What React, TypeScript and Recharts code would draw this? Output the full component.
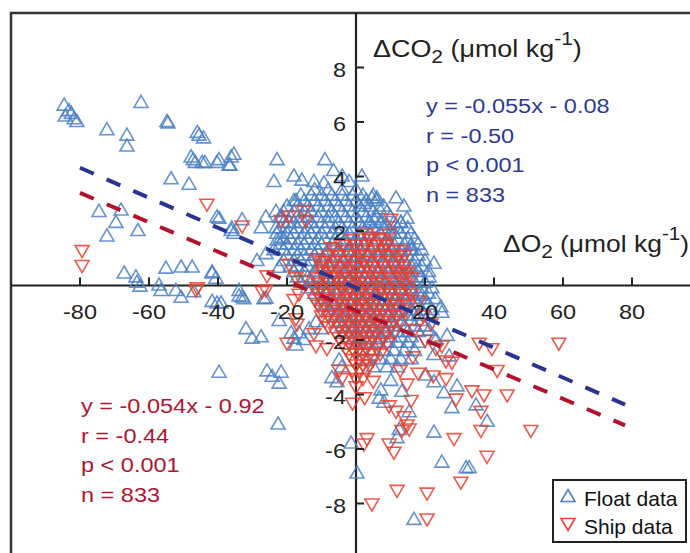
import React from 'react';
import { ScatterChart, Scatter, XAxis, YAxis, ReferenceLine, ReferenceDot, ReferenceArea } from 'recharts';

// ---------- data ----------
const xTicks = [-80, -60, -40, -20, 20, 40, 60, 80];
const yTicks = [8, 6, 4, 2, -2, -4, -6, -8];
const xDomain = [-100, 100];
const yDomain = [-10, 10];

const floatName = 'Float data';
const shipName = 'Ship data';

// scattered float points [ΔO2, ΔCO2]
const floatOutliers: [number, number][] = [
  [-84.6, 6.6], [-83.2, 6.4], [-84.3, 6.2], [-81.7, 6.1], [-80.9, 6.0], [-82.5, 6.3],
  [-62.3, 6.7], [-72.2, 5.7], [-66.4, 5.5], [-66.4, 5.1], [-54.8, 6.0], [-54.5, 5.95],
  [-46, 5.6], [-45.5, 5.5], [-44.2, 5.4], [-47.8, 4.7], [-47.2, 4.6], [-46.6, 4.5],
  [-43.8, 4.5], [-40.3, 4.5], [-36.2, 4.7], [-36.5, 4.4], [-53.6, 3.9], [-48.4, 3.7],
  [-74.5, 2.7], [-68.1, 2.75], [-69.6, 2.3], [-72.2, 1.8], [-63.2, 2.0],
  [-40.3, 2.5], [-36.2, 2.0], [-35.4, 1.9],
  [-22.9, 4.6], [-9, 4.6], [-23.8, 3.8], [-18, 4.0], [-15.7, 3.85], [-12.2, 3.8], [-9.3, 3.75],
  [-6.5, 4.2], [-4, 4.0], [-2, 3.8],
  [-67.2, 0.44], [-63.8, 0.3], [-55.1, 0.62], [-50.7, 0.66], [-47.5, 0.66], [-41.7, 0.44],
  [-63.5, 0.1], [-62.6, -0.04], [-57.1, 0], [-56.5, -0.2], [-52.2, -0.2], [-50.7, -0.45],
  [-47, -0.25], [-40.6, 0.25], [-41.7, -0.6], [-40.3, -0.66], [-33.9, -0.4], [-32.5, -0.5],
  [-26.7, -0.5], [-39.1, -0.66], [-33.9, -0.2], [-33, -0.44], [-26.1, -0.48],
  [-31.9, -1.6], [-30.1, -1.95], [-27.5, -1.9], [-39.7, -3.2], [-25.8, -3.15], [-24.3, -3.35],
  [-21.7, -3.2], [-22.3, -3.6], [-22.6, -5.1],
  [-22.3, -1.3], [-18.8, -1.75], [-18, -1.95], [-16.5, -1.75], [-15.1, -2], [-17.4, -2.2],
  [-13.6, -1.6], [-11.6, -1.35], [-10.1, -1.6],
  [-7, -3.4], [-4.9, -2.75], [-5.5, -3.55], [-4.1, -3.0], [-1.4, -5.8],
  [-44.6, 4.5], [-39.7, 4.6], [-36.8, 4.4], [-35.4, 4.8],
  [-17.4, 3.1], [-39.7, 2.45], [-33, 2.4], [-36, 2.1], [-41.7, 0.48],
  [-26.1, 2.5], [-23.2, 2.7], [-21.4, 2.5], [-19.4, 2.3],
  [-27.5, 2.1], [-23.2, 2.1], [-21.7, 1.75], [-22.9, 1.65],
  [-28.7, 0.9], [-26.1, 1.15], [-23.8, 1.3], [-22.3, 0.65],
  [1.7, 4.0], [4.6, 3.2], [6.1, 3.2], [2.3, 3.0], [6.7, 2.8], [14.8, 2.45], [13, 2.3],
  [15.9, 1.45], [16.2, 1.3], [22.6, 0.8], [17.4, 0.6], [21.2, 0.3],
  [3.8, 2.3], [5.2, 2.4], [7.5, 2.3], [9, 2.2], [11, 1.9], [8.7, 1.3], [11.6, 3.2], [13.9, 2.9],
  [16.2, -0.2], [19.1, -0.37], [24.6, -0.8], [24.9, -1.0], [22.6, -1.95], [27, -2.6],
  [22.6, -2.55], [20.3, -3.3], [22.6, -3.55], [29.3, -3.7], [25.5, -3.95], [27.8, -4.5],
  [7.2, -3.85], [6.7, -4.15], [8.1, -4.3], [15.4, -4.65], [12.5, -5.3], [11.9, -5.6],
  [22.6, -5.4], [24.9, -6.5], [31.9, -6.7], [0.3, -6.9], [16.8, -8.6],
  [21.2, -1.65], [23.2, -2.0], [26.4, -1.85], [10.1, -3.5], [13.3, -3.9],
  [34.8, -4.4], [38, -5.0], [32.8, -6.7],
];

// dense float core: [ΔCO2 row, ΔO2 values]
const floatCoreRows: [number, number[]][] = [
  [3.5, [-12, -8, -4, 0]],
  [3.3, [-16, -13, -10, -7, -4, -1, 2, 5]],
  [3.1, [-18, -15, -12, -9, -6, -3, 0, 3, 6]],
  [2.9, [-20, -17, -14, -11, -8, -5, -2, 1, 4, 8]],
  [2.7, [-21, -18, -15, -13, -10, -7, -4, -1, 2, 5, 9]],
  [2.5, [-22, -19, -16, -14, -11, -8, -6, -3, 0, 3, 6, 10]],
  [2.3, [-21, -18, -16, -13, -10, -8, -5, -2, 1, 4, 7, 11, 13]],
  [2.1, [-22, -19, -17, -14, -12, -9, -6, -4, -1, 2, 5, 8, 12, 15]],
  [1.9, [-23, -20, -18, -15, -13, -10, -7, -5, -2, 1, 4, 7, 10, 13, 16]],
  [1.7, [-21, -19, -16, -14, -11, -9, -6, -3, 0, 3, 6, 9, 12, 15, 17]],
  [1.5, [-22, -20, -17, -15, -12, -10, -7, -4, -1, 2, 5, 8, 11, 14, 18]],
  [1.3, [-21, -18, -16, -13, -11, -8, -5, -2, 1, 4, 7, 10, 13, 16, 19]],
  [1.1, [-20, -17, -15, -12, -9, -6, -3, 0, 3, 6, 9, 12, 15, 18]],
  [0.9, [-21, -18, -16, -13, -10, -7, -4, -1, 2, 5, 8, 11, 14, 17, 20]],
  [0.7, [-19, -17, -14, -11, -8, -5, -2, 1, 4, 7, 10, 13, 16, 19]],
  [0.5, [-18, -15, -12, -9, -6, -3, 0, 3, 6, 9, 12, 15, 18, 21]],
  [0.3, [-17, -14, -11, -8, -5, -2, 1, 4, 7, 10, 13, 16, 19]],
  [0.1, [-16, -13, -10, -7, -4, -1, 2, 5, 8, 11, 14, 17, 20]],
  [-0.1, [-14, -11, -8, -5, -2, 1, 4, 7, 10, 13, 16, 19, 22]],
  [-0.3, [-12, -9, -6, -3, 0, 3, 6, 9, 12, 15, 18, 21]],
  [-0.5, [-10, -7, -4, -1, 2, 5, 8, 11, 14, 17, 20, 23]],
  [-0.7, [-9, -6, -3, 0, 3, 6, 9, 12, 15, 18, 21]],
  [-0.9, [-8, -5, -2, 1, 4, 7, 10, 13, 16, 19, 22]],
  [-1.1, [-6, -3, 0, 3, 6, 9, 12, 15, 18, 21]],
  [-1.3, [-5, -2, 1, 4, 7, 10, 13, 16, 19]],
  [-1.5, [-4, -1, 2, 5, 8, 11, 14, 17, 20]],
  [-1.7, [-3, 0, 3, 6, 9, 12, 15, 18]],
  [-1.9, [-2, 1, 4, 7, 10, 13, 16]],
  [-2.1, [0, 3, 6, 9, 12, 15, 18]],
  [-2.4, [2, 5, 8, 11, 14, 17]],
  [-2.7, [3, 7, 10, 13, 16]],
  [-3.0, [5, 9, 12]],
];

const shipOutliers: [number, number][] = [
  [-79.4, 1.3], [-79.4, 0.75], [-46, -0.07], [-46.4, -0.15], [-26.1, -0.15], [-43.2, 3.0],
  [-33, 2.2], [-21.7, 2.4], [-19.4, 2.55], [-15.1, 2.75], [-14.5, 2.4], [-25.8, 0.37],
  [-7, 1.4], [-11.3, 1.0], [-9.9, 0.9], [-19.4, 0.8], [-17.4, 0.3], [-15.7, 0.2],
  [-27.2, -0.2], [-20, -2.1], [-17.4, -1.2], [-17.1, -1.4], [-11.6, -2.2], [-12.2, -1.75],
  [-4.9, -3.1], [-4.1, -3.4], [-18, -0.5], [-16.5, -0.3], [-8.4, -2.3],
  [10.1, 2.45], [3.8, 1.8], [6.7, 1.75], [9.6, 1.9], [8.7, 1.5], [13.9, 0.44],
  [18.3, -0.55], [21.7, -1.4], [24.9, -2.2], [23.2, -2.3], [26.1, -2.75], [27.8, -2.8],
  [26.1, -3.4], [29, -4.15], [14.8, -3.6], [9.6, -4.4], [11.6, -4.6], [13.9, -4.8],
  [14.8, -5.1], [13.3, -5.3], [15.4, -5.25], [3.2, -5.6], [2.3, -5.8], [9.6, -5.8],
  [11, -6.1], [28.4, -5.6], [30.4, -7.2], [11.9, -7.5], [20.6, -7.6], [4.6, -8.0], [20.6, -8.55],
  [35.7, -2.1], [39.4, -2.3], [58.8, -2.1], [40.9, -3.1], [43.8, -4.0], [33.6, -3.85],
  [37.1, -4.0], [36.2, -4.6], [36.2, -5.3], [50.7, -5.3], [38, -6.25],
  [19.5, -1.1], [17, -1.6], [20, -2.0], [16.5, -2.6], [12.8, -3.1], [18, -3.2],
  [22.4, -3.3], [16, -4.2], [0, -3.7], [2.5, -4.1], [5, -3.5], [-1, -4.3],
];

const shipCoreRows: [number, number[]][] = [
  [1.9, [3]],
  [1.7, [-1, 4, 8]],
  [1.5, [-4, 0, 3, 6, 9]],
  [1.3, [-6, -3, 0, 2, 5, 8, 11, 13]],
  [1.1, [-8, -5, -2, 1, 3, 6, 9, 12, 14]],
  [0.9, [-9, -6, -3, -1, 2, 4, 7, 10, 13]],
  [0.7, [-10, -7, -5, -2, 0, 3, 5, 8, 11, 14]],
  [0.5, [-10, -8, -6, -3, -1, 1, 4, 6, 9, 12, 15]],
  [0.3, [-11, -9, -6, -4, -2, 0, 2, 5, 7, 10, 13, 16]],
  [0.1, [-11, -8, -5, -3, -1, 1, 3, 6, 8, 11, 14]],
  [-0.1, [-12, -10, -7, -4, -2, 0, 2, 4, 7, 9, 12, 15]],
  [-0.3, [-11, -9, -6, -3, -1, 1, 3, 5, 8, 10, 13, 16]],
  [-0.5, [-12, -10, -8, -5, -3, 0, 2, 4, 6, 9, 11, 14]],
  [-0.7, [-11, -9, -6, -4, -2, 1, 3, 5, 7, 10, 12, 15]],
  [-0.9, [-10, -7, -5, -3, 0, 2, 4, 6, 8, 11, 14]],
  [-1.1, [-10, -8, -6, -3, -1, 1, 3, 5, 7, 9, 12]],
  [-1.3, [-9, -7, -4, -2, 0, 2, 4, 6, 8, 11, 13]],
  [-1.5, [-8, -5, -3, -1, 1, 3, 5, 7, 10]],
  [-1.7, [-6, -4, -2, 0, 2, 4, 6, 9, 11]],
  [-1.9, [-5, -3, -1, 1, 3, 5, 8]],
  [-2.1, [-4, -2, 0, 2, 4, 7, 9]],
  [-2.3, [-3, -1, 1, 3, 6]],
  [-2.5, [-2, 0, 2, 4, 7]],
  [-2.7, [-1, 1, 3, 5]],
  [-2.9, [0, 2, 4]],
  [-3.1, [-1, 1, 3]],
  [-3.4, [0, 2]],
];

const floatFit = { slope: -0.055, intercept: -0.08 };
const shipFit = { slope: -0.054, intercept: -0.92 };
const fitRange = [-80, 78];

const floatStats = ['y = -0.055x - 0.08', 'r = -0.50', 'p < 0.001', 'n = 833'];
const shipStats = ['y = -0.054x - 0.92', 'r = -0.44', 'p < 0.001', 'n = 833'];

// ---------- styles ----------
const FLOAT_COLOR = '#4b80c6';
const SHIP_COLOR = '#e5402f';
const FLOAT_FIT = '#2a3591';
const SHIP_FIT = '#b3122f';
const FLOAT_TEXT = '#2e3a94';
const SHIP_TEXT = '#b01530';
const AXIS = '#222';
const FONT = '"Liberation Sans", Arial, Helvetica, sans-serif';
const SX = 1.12;

const toPts = (pairs: [number, number][]) => pairs.map(([x, y]) => ({ x, y }));
const fromRows = (rows: [number, number[]][]) => rows.flatMap(([y, xs]) => xs.map((x) => ({ x, y })));

const floatData = [...toPts(floatOutliers), ...fromRows(floatCoreRows)];
const shipData = [...toPts(shipOutliers), ...fromRows(shipCoreRows)];
const fitLine = (f: { slope: number; intercept: number }) =>
  fitRange.map((x) => ({ x, y: f.slope * x + f.intercept }));

const upPath = (cx: number, cy: number) => `M${cx},${cy - 7.5}L${cx + 7},${cy + 4.5}L${cx - 7},${cy + 4.5}Z`;
const downPath = (cx: number, cy: number) => `M${cx},${cy + 7.5}L${cx + 7},${cy - 4.5}L${cx - 7},${cy - 4.5}Z`;

const UpTri = (p: any) =>
  p.cx == null ? <g /> : <path d={upPath(p.cx, p.cy)} fill="none" stroke={FLOAT_COLOR} strokeOpacity={0.85} strokeWidth={1.6} />;
const DownTri = (p: any) =>
  p.cx == null ? <g /> : <path d={downPath(p.cx, p.cy)} fill="none" stroke={SHIP_COLOR} strokeOpacity={0.85} strokeWidth={1.6} />;
const NoShape = () => <g />;

const Txt = ({ x, y, children, anchor = 'start', size = 21, fill = AXIS, sx = SX }: any) => (
  <text transform={`translate(${x} ${y}) scale(${sx} 1)`} x={0} y={0} textAnchor={anchor} fontSize={size} fill={fill} fontFamily={FONT}>
    {children}
  </text>
);

const XTick = (v: number) => (p: any) =>
  p.cx == null ? <g /> : (
    <g>
      <line x1={p.cx} x2={p.cx} y1={p.cy} y2={p.cy - 8} stroke={AXIS} strokeWidth={2} />
      <Txt x={p.cx} y={p.cy + 33} anchor="middle">{String(v)}</Txt>
    </g>
  );
const YTick = (v: number) => (p: any) =>
  p.cx == null ? <g /> : (
    <g>
      <line x1={p.cx} x2={p.cx + 8} y1={p.cy} y2={p.cy} stroke={AXIS} strokeWidth={2} />
      <Txt x={p.cx - 10} y={p.cy + 9} anchor="end">{String(v)}</Txt>
    </g>
  );

const UnitTitle = ({ x, y, species, sx }: { x: number; y: number; species: string; sx: number }) => (
  <text transform={`translate(${x} ${y}) scale(${sx} 1)`} x={0} y={0} fontSize={23} fill={AXIS} fontFamily={FONT}>
    <tspan>{'Δ' + species}</tspan>
    <tspan fontSize={18} dy={6}>2</tspan>
    <tspan dy={-6}>{' (μmol kg'}</tspan>
    <tspan fontSize={18} dy={-12}>-1</tspan>
    <tspan dy={12}>)</tspan>
  </text>
);

const LegendBox = () => (
  <div style={{ position: 'absolute', left: 552, top: 479, width: 135, height: 64, boxSizing: 'border-box', border: '2px solid #222', background: '#fff' }}>
    <svg width={131} height={60} style={{ display: 'block' }}>
      <path d={upPath(14, 16)} fill="none" stroke={FLOAT_COLOR} strokeWidth={1.6} />
      <text x={30} y={25} fontSize={21} fontFamily={FONT} fill="#111">{floatName}</text>
      <path d={downPath(14, 42)} fill="none" stroke={SHIP_COLOR} strokeWidth={1.6} />
      <text x={30} y={53} fontSize={21} fontFamily={FONT} fill="#111">{shipName}</text>
    </svg>
  </div>
);

export default function App() {
  return (
    <div style={{ position: 'absolute', left: 0, top: 0, width: 690, height: 553, overflow: 'hidden', background: '#fff' }}>
      <ScatterChart width={721} height={578} margin={{ top: 13, left: 11, right: 20, bottom: 20 }}>
        <XAxis type="number" dataKey="x" domain={xDomain} hide allowDataOverflow />
        <YAxis type="number" dataKey="y" domain={yDomain} hide allowDataOverflow />
        <ReferenceArea x1={xDomain[0]} x2={xDomain[1]} y1={yDomain[0]} y2={yDomain[1]} fill="none" stroke="#333" strokeWidth={2.5} ifOverflow="visible" />
        <Scatter name={floatName} data={floatData} shape={UpTri} isAnimationActive={false} />
        <Scatter name={shipName} data={shipData} shape={DownTri} isAnimationActive={false} />
        <Scatter data={fitLine(floatFit)} shape={NoShape} line={{ stroke: FLOAT_FIT, strokeWidth: 4, strokeDasharray: '15 14' }} legendType="none" isAnimationActive={false} />
        <Scatter data={fitLine(shipFit)} shape={NoShape} line={{ stroke: SHIP_FIT, strokeWidth: 4, strokeDasharray: '15 14' }} legendType="none" isAnimationActive={false} />
        <ReferenceLine x={0} stroke={AXIS} strokeWidth={2.2} ifOverflow="visible" />
        <ReferenceLine y={0} stroke={AXIS} strokeWidth={2.2} ifOverflow="visible" />
        {xTicks.map((v) => (
          <ReferenceDot key={'x' + v} x={v} y={0} r={0} ifOverflow="visible" shape={XTick(v)} />
        ))}
        {yTicks.map((v) => (
          <ReferenceDot key={'y' + v} x={0} y={v} r={0} ifOverflow="visible" shape={YTick(v)} />
        ))}
      </ScatterChart>
      <svg width={690} height={553} style={{ position: 'absolute', left: 0, top: 0, pointerEvents: 'none' }}>
        <UnitTitle x={373} y={57} species="CO" sx={1.17} />
        <UnitTitle x={503} y={252} species="O" sx={1.15} />
        {floatStats.map((s, i) => (
          <Txt key={'f' + i} x={426} y={113 + i * 29.7} fill={FLOAT_TEXT}>{s}</Txt>
        ))}
        {shipStats.map((s, i) => (
          <Txt key={'s' + i} x={81} y={413 + i * 29.7} fill={SHIP_TEXT}>{s}</Txt>
        ))}
      </svg>
      <LegendBox />
    </div>
  );
}
